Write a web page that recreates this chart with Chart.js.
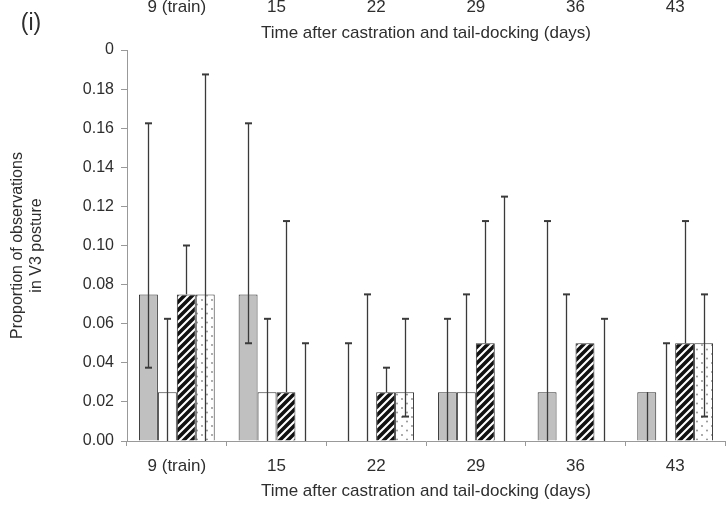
<!DOCTYPE html>
<html>
<head>
<meta charset="utf-8">
<script src="https://cdn.jsdelivr.net/npm/chart.js"></script>
<style>
  html, body { margin: 0; padding: 0; background: #fff; }
  #wrap { position: relative; width: 726px; height: 506px; }
</style>
</head>
<body>
<div id="wrap"><canvas id="barChart" width="726" height="506"></canvas></div>
<script>
// categories (days after castration)
const days = ['9 (train)', '15', '22', '29', '36', '43'];

// bar heights per treatment group
const greyVals  = [0.075, 0.075, 0,     0.025, 0.025, 0.025];
const whiteVals = [0.025, 0.025, 0,     0.025, 0,     0];
const hatchVals = [0.075, 0.025, 0.025, 0.05,  0.05,  0.05];
const dotVals   = [0.075, 0,     0.025, 0,     0,     0.05];

// error bar ends (upper / lower)
const greyHigh  = [0.1625, 0.1625, 0.05,   0.0625, 0.1125, 0.025];
const greyLow   = [0.0375, 0.05,   0,      0,      0,      0];
const whiteHigh = [0.0625, 0.0625, 0.075,  0.075,  0.075,  0.05];
const whiteLow  = [0,      0,      0,      0,      0,      0];
const hatchHigh = [0.1,    0.1125, 0.0375, 0.1125, 0.05,   0.1125];
const hatchLow  = [0.075,  0.025,  0.025,  0.05,   0.05,   0.05];
const dotHigh   = [0.1875, 0.05,   0.0625, 0.125,  0.0625, 0.075];
const dotLow    = [0,      0,      0.0125, 0,      0,      0.0125];

const yTicks = [0, 0.02, 0.04, 0.06, 0.08, 0.10, 0.12, 0.14, 0.16, 0.18, 0.20];

const FONT = '"Liberation Sans", Arial, sans-serif';
const TXT = '#2e2e2e';

function hatchPattern() {
    const c = document.createElement('canvas');
    c.width = 8; c.height = 8;
    const g = c.getContext('2d');
    g.fillStyle = '#fff';
    g.fillRect(0, 0, 8, 8);
    g.strokeStyle = '#111';
    g.lineWidth = 3.6;
    g.beginPath();
    g.moveTo(-2, 10); g.lineTo(10, -2);
    g.moveTo(-6, 6); g.lineTo(6, -6);
    g.moveTo(2, 14); g.lineTo(14, 2);
    g.stroke();
    return g.createPattern(c, 'repeat');
}

function dotPattern() {
    const c = document.createElement('canvas');
    c.width = 10; c.height = 18;
    const g = c.getContext('2d');
    g.fillStyle = '#fff';
    g.fillRect(0, 0, 10, 18);
    g.fillStyle = '#888';
    [[2, 3], [7, 7.5], [2, 12], [7, 16.5]].forEach(p => {
        g.beginPath(); g.arc(p[0], p[1], 0.9, 0, Math.PI * 2); g.fill();
    });
    return g.createPattern(c, 'repeat');
}

const errorBars = {
    id: 'errorBars',
    afterDatasetsDraw(chart) {
        const ctx = chart.ctx;
        const y = chart.scales.y;
        ctx.save();
        ctx.strokeStyle = '#3a3a3a';
        chart.data.datasets.forEach((ds, i) => {
            const meta = chart.getDatasetMeta(i);
            meta.data.forEach((bar, j) => {
                const hi = ds.errHigh[j], lo = ds.errLow[j], v = ds.data[j];
                const x = Math.round(bar.x) + 0.5;
                const yh = y.getPixelForValue(hi);
                const yl = y.getPixelForValue(lo);
                if (hi > lo) {
                    ctx.lineWidth = 1.3;
                    ctx.beginPath();
                    ctx.moveTo(x, yl); ctx.lineTo(x, yh);
                    ctx.stroke();
                }
                ctx.lineWidth = 2;
                if (hi > v) {
                    ctx.beginPath(); ctx.moveTo(x - 3.5, yh); ctx.lineTo(x + 3.5, yh); ctx.stroke();
                }
                if (lo > 0 && lo < v) {
                    ctx.beginPath(); ctx.moveTo(x - 3.5, yl); ctx.lineTo(x + 3.5, yl); ctx.stroke();
                }
            });
        });
        ctx.restore();
    }
};

// leftover axis text of the panel above and the panel letter
const topText = {
    id: 'topText',
    afterDraw(chart) {
        const ctx = chart.ctx;
        const x = chart.scales.x;
        ctx.save();
        ctx.fillStyle = TXT;
        ctx.textAlign = 'center';
        ctx.textBaseline = 'middle';
        ctx.font = '17px ' + FONT;
        days.forEach((d, i) => ctx.fillText(d, x.getPixelForValue(i), 7));
        ctx.fillText('Time after castration and tail-docking (days)', (x.left + x.right) / 2, 33);
        ctx.font = '23px ' + FONT;
        ctx.fillText('(i)', 31, 24);
        ctx.restore();
    }
};

const ctx = document.getElementById('barChart');
const mk = (vals, hi, lo, fill) => ({
    data: vals, errHigh: hi, errLow: lo,
    backgroundColor: fill, borderColor: '#333', borderWidth: 1,
    categoryPercentage: 0.76, barPercentage: 1.0
});

const barChart = new Chart(ctx, {
    type: 'bar',
    data: {
        labels: days,
        datasets: [
            mk(greyVals, greyHigh, greyLow, '#c0c0c0'),
            mk(whiteVals, whiteHigh, whiteLow, '#ffffff'),
            mk(hatchVals, hatchHigh, hatchLow, hatchPattern()),
            mk(dotVals, dotHigh, dotLow, dotPattern())
        ]
    },
    plugins: [errorBars, topText],
    options: {
        responsive: false,
        animation: false,
        layout: { padding: { top: 50, right: 1, left: 0, bottom: 0 } },
        plugins: { legend: { display: false }, tooltip: { enabled: false } },
        scales: {
            y: {
                min: 0, max: 0.2,
                afterBuildTicks(s) { s.ticks = yTicks.map(v => ({ value: v })); },
                afterFit(s) { s.width = 127; },
                ticks: {
                    color: TXT, font: { family: FONT, size: 16 }, padding: 7,
                    callback: v => (v >= 0.199 ? '0' : v.toFixed(2))
                },
                grid: { drawOnChartArea: false, color: '#999', tickLength: 6 },
                border: { color: '#999' },
                title: {
                    display: true,
                    text: ['Proportion of observations', 'in V3 posture'],
                    color: TXT, font: { family: FONT, size: 16, lineHeight: 1.13 },
                    padding: { top: 9, bottom: 4 }
                }
            },
            x: {
                afterFit(s) { s.height = 65; },
                ticks: { color: TXT, font: { family: FONT, size: 17 }, padding: 10 },
                grid: { drawOnChartArea: false, color: '#999', tickLength: 5, offset: true },
                border: { color: '#999' },
                title: {
                    display: true,
                    text: 'Time after castration and tail-docking (days)',
                    color: TXT, font: { family: FONT, size: 17 }, padding: { top: 2 }
                }
            }
        }
    }
});
</script>
</body>
</html>
